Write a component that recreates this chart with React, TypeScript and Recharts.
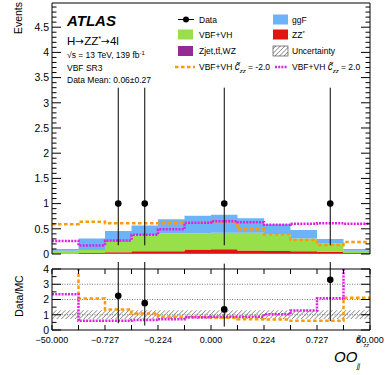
import React from 'react';
import { ComposedChart, Area, Line, Scatter, ErrorBar, XAxis, YAxis, ReferenceLine } from 'recharts';

// ---------- data ----------
const binEdges = [0, 1, 2, 3, 4, 5, 6, 7, 8, 9, 10, 11, 12];
const edgeLabels = ['−50.000', '', '−0.727', '', '−0.224', '', '0.000', '', '0.224', '', '0.727', '', '50.000'];

// stacked yields per bin (Events)
const zjetYield = [0.004, 0.004, 0.005, 0.006, 0.006, 0.006, 0.006, 0.006, 0.006, 0.005, 0.004, 0.004];
const zzYield = [0.008, 0.018, 0.032, 0.05, 0.048, 0.082, 0.086, 0.062, 0.056, 0.05, 0.04, 0.016];
const vbfYield = [0.053, 0.058, 0.2, 0.31, 0.355, 0.322, 0.328, 0.352, 0.328, 0.255, 0.166, 0.045];
const ggfYield = [0.035, 0.23, 0.22, 0.2, 0.28, 0.35, 0.36, 0.29, 0.2, 0.165, 0.09, 0.035];
const vbfMinus2 = [0.59, 0.64, 0.61, 0.61, 0.61, 0.63, 0.62, 0.49, 0.39, 0.28, 0.18, 0.24];
const vbfPlus2 = [0.26, 0.17, 0.27, 0.38, 0.49, 0.62, 0.65, 0.63, 0.58, 0.6, 0.61, 0.6];

// data points
const dataBinCenters = [2.5, 3.5, 6.5, 10.5];
const dataCounts = [1, 1, 1, 1];
const dataErrLow = [0.827, 0.827, 0.827, 0.827];
const dataErrHigh = [2.3, 2.3, 2.3, 2.3];

// ratio panel
const ratioValues = [2.24, 1.76, 1.35, 3.29];
const ratioErrLow = [1.8, 1.47, 1.13, 2.71];
const ratioErrHigh = [5.0, 4.0, 3.0, 7.6];
const ratioMinus2 = [5.9, 2.07, 1.35, 1.09, 0.87, 0.86, 0.8, 0.71, 0.69, 0.6, 0.6, 2.12];
const ratioPlus2 = [2.35, 0.6, 0.6, 0.65, 0.71, 0.83, 0.87, 0.87, 1.03, 1.28, 2.08, 5.5];
const uncLow = [0.72, 0.72, 0.72, 0.72, 0.72, 0.72, 0.72, 0.72, 0.72, 0.72, 0.72, 0.72];
const uncHigh = [1.3, 1.3, 1.3, 1.3, 1.3, 1.3, 1.3, 1.3, 1.3, 1.3, 1.3, 1.3];

const mainYLabels = ['0', '0.5', '1', '1.5', '2', '2.5', '3', '3.5', '4', '4.5'];
const ratioYLabels = ['0', '1', '2', '3', '4'];
const ratioGrid = [1, 2, 3];

const COLORS = {
  ggf: '#6cb4f7',
  vbf: '#97e04a',
  zz: '#e3140f',
  zjet: '#942a94',
  minus2: '#ff9a0a',
  plus2: '#e020e0',
};

// ---------- tables ----------
const mainRows = binEdges.map((x) => {
  const j = Math.min(x, 11);
  return {
    x,
    zjet: zjetYield[j],
    zz: zzYield[j],
    vbf: vbfYield[j],
    ggf: ggfYield[j],
    m2: vbfMinus2[j],
    p2: vbfPlus2[j],
  };
});
const ratioRows = binEdges.map((x) => {
  const j = Math.min(x, 11);
  return { x, m2: ratioMinus2[j], p2: ratioPlus2[j], band: [uncLow[j], uncHigh[j]] };
});
const dataPts = dataBinCenters.map((x, i) => ({ x, y: dataCounts[i], err: [dataErrLow[i], dataErrHigh[i]] }));
const ratioPts = dataBinCenters.map((x, i) => ({ x, y: ratioValues[i], err: [ratioErrLow[i], ratioErrHigh[i]] }));

const mainYTicks: number[] = [];
for (let k = 0; k <= 49; k++) mainYTicks.push(k / 10);
const ratioYTicks: number[] = [];
for (let k = 0; k <= 8; k++) ratioYTicks.push(k / 2);

const FONT = '"Liberation Sans", Arial, Helvetica, sans-serif';
const ARROW_FONT = '"DejaVu Sans", sans-serif';
const PL = 52;
const PR = 370;
// main panel (local coords = page coords)
const M_TOP = 3;
const M_BOT = 254;
// ratio panel local coords (chart placed at page y=262)
const R_OFF = 262;
const R_TOP = 7;
const R_BOT = 68;

const MainYTick = (props: any) => {
  const { y, payload } = props;
  const v = payload.value;
  const major = Math.abs(v * 2 - Math.round(v * 2)) < 1e-6;
  const len = major ? 9 : 4.5;
  const label = major ? mainYLabels[Math.round(v * 2)] : null;
  return (
    <g>
      <line x1={PL} x2={PL + len} y1={y} y2={y} stroke="#000" strokeWidth={1} />
      <line x1={PR - len} x2={PR} y1={y} y2={y} stroke="#000" strokeWidth={1} />
      {label != null && (
        <text x={PL - 3} y={y} dy="0.36em" textAnchor="end" fontSize={10.5} fontFamily={FONT} fill="#000">
          {label}
        </text>
      )}
    </g>
  );
};

const MainXTick = (props: any) => {
  const { x } = props;
  return (
    <g>
      <line x1={x} x2={x} y1={M_BOT} y2={M_BOT - 5} stroke="#000" />
      <line x1={x} x2={x} y1={M_TOP} y2={M_TOP + 5} stroke="#000" />
    </g>
  );
};

const RatioYTick = (props: any) => {
  const { y, payload } = props;
  const v = payload.value;
  const major = Math.abs(v - Math.round(v)) < 1e-6;
  const len = major ? 9 : 4.5;
  const label = major ? ratioYLabels[Math.round(v)] : null;
  return (
    <g>
      <line x1={PL} x2={PL + len} y1={y} y2={y} stroke="#000" />
      <line x1={PR - len} x2={PR} y1={y} y2={y} stroke="#000" />
      {label != null && (
        <text x={PL - 3} y={y} dy="0.36em" textAnchor="end" fontSize={10.5} fontFamily={FONT} fill="#000">
          {label}
        </text>
      )}
    </g>
  );
};

const RatioXTick = (props: any) => {
  const { x, payload } = props;
  const label = edgeLabels[payload.value];
  return (
    <g>
      <line x1={x} x2={x} y1={R_BOT} y2={R_BOT - 5} stroke="#000" />
      <line x1={x} x2={x} y1={R_TOP} y2={R_TOP + 5} stroke="#000" />
      {label ? (
        <text x={x} y={R_BOT + 12.5} textAnchor="middle" fontSize={9} fontFamily={FONT} fill="#000">
          {label}
        </text>
      ) : null}
    </g>
  );
};

const dot = (p: any) => <circle cx={p.cx} cy={p.cy} r={3.3} fill="#000" />;

type LegendItem = { label: string; kind: string; color: string; col: number; row: number; sign?: string };
const legendItems: LegendItem[] = [
  { label: 'Data', kind: 'data', color: '#000', col: 0, row: 0 },
  { label: 'ggF', kind: 'box', color: COLORS.ggf, col: 1, row: 0 },
  { label: 'VBF+VH', kind: 'box', color: COLORS.vbf, col: 0, row: 1 },
  { label: 'ZZ*', kind: 'box', color: COLORS.zz, col: 1, row: 1 },
  { label: 'Zjet,tt̄,WZ', kind: 'box', color: COLORS.zjet, col: 0, row: 2 },
  { label: 'Uncertainty', kind: 'hatch', color: '#333', col: 1, row: 2 },
  { label: 'VBF+VH', kind: 'dash', color: COLORS.minus2, col: 0, row: 3, sign: '-2.0' },
  { label: 'VBF+VH', kind: 'dot', color: COLORS.plus2, col: 1, row: 3, sign: '2.0' },
];
const legendRowY = [19.5, 34.5, 51, 67];
const legendColX = [178, 273];

const Legend = () => (
  <g fontFamily={FONT} fontSize={8.5}>
    {legendItems.map((it, i) => {
      const x0 = legendColX[it.col];
      const cy = legendRowY[it.row];
      let marker: any = null;
      if (it.kind === 'data') {
        marker = (
          <g>
            <line x1={x0} x2={x0 + 16} y1={cy} y2={cy} stroke="#000" />
            <circle cx={x0 + 8} cy={cy} r={3} fill="#000" />
          </g>
        );
      } else if (it.kind === 'box') {
        marker = <rect x={x0} y={cy - 5} width={15} height={10} fill={it.color} />;
      } else if (it.kind === 'hatch') {
        marker = <rect x={x0} y={cy - 5} width={15} height={10} fill="url(#hatchPat)" stroke="#333" strokeWidth={0.6} />;
      } else if (it.kind === 'dash') {
        marker = <line x1={x0 - 3} x2={x0 + 17} y1={cy} y2={cy} stroke={it.color} strokeWidth={2.5} strokeDasharray="3.5 2.5" />;
      } else {
        marker = <line x1={x0 + 2} x2={x0 + 14} y1={cy} y2={cy} stroke={it.color} strokeWidth={2.5} strokeDasharray="2 1.2" />;
      }
      const tx = x0 + (it.col === 0 ? 21 : 19);
      return (
        <g key={i}>
          {marker}
          {it.sign ? (
            <text x={tx} y={cy + 3} fill="#000">
              {it.label + ' '}
              <tspan fontStyle="italic" fontSize={10}>{'c\u0303'}</tspan>
              <tspan fontStyle="italic" fontSize={6} dy={2.5}>zz</tspan>
              <tspan dy={-2.5}>{' = ' + it.sign}</tspan>
            </text>
          ) : it.label === 'ZZ*' ? (
            <text x={tx} y={cy + 3} fill="#000">
              ZZ<tspan fontSize={6} dy={-3}>*</tspan>
            </text>
          ) : (
            <text x={tx} y={cy + 3} fill="#000">{it.label}</text>
          )}
        </g>
      );
    })}
  </g>
);

export default function App() {
  return (
    <div style={{ position: 'absolute', left: 0, top: 0, width: 390, height: 375, background: '#fff' }}>
      <svg width={0} height={0} style={{ position: 'absolute' }}>
        <defs>
          <pattern id="hatchPat" width={3.2} height={3.2} patternUnits="userSpaceOnUse" patternTransform="rotate(45)">
            <line x1={0} y1={0} x2={0} y2={3.2} stroke="#333" strokeWidth={0.9} />
          </pattern>
        </defs>
      </svg>

      <div style={{ position: 'absolute', left: 0, top: 0 }}>
        <ComposedChart width={390} height={262} data={mainRows} margin={{ top: 3, right: 20, bottom: 8, left: 0 }}>
          <XAxis
            type="number"
            dataKey="x"
            domain={[0, 12]}
            ticks={binEdges}
            interval={0}
            height={0}
            tickLine={false}
            axisLine={{ stroke: '#000' }}
            tick={<MainXTick />}
          />
          <YAxis
            type="number"
            domain={[0, 4.98]}
            ticks={mainYTicks}
            interval={0}
            width={52}
            tickLine={false}
            axisLine={{ stroke: '#000' }}
            tick={<MainYTick />}
            allowDataOverflow
          />
          <Area type="stepAfter" dataKey="zjet" stackId="s" fill={COLORS.zjet} fillOpacity={1} stroke="none" isAnimationActive={false} />
          <Area type="stepAfter" dataKey="zz" stackId="s" fill={COLORS.zz} fillOpacity={1} stroke="none" isAnimationActive={false} />
          <Area type="stepAfter" dataKey="vbf" stackId="s" fill={COLORS.vbf} fillOpacity={1} stroke="none" isAnimationActive={false} />
          <Area type="stepAfter" dataKey="ggf" stackId="s" fill={COLORS.ggf} fillOpacity={1} stroke="none" isAnimationActive={false} />
          <Line type="stepAfter" dataKey="m2" stroke={COLORS.minus2} strokeWidth={2.5} strokeDasharray="3.5 2.5" dot={false} isAnimationActive={false} />
          <Line type="stepAfter" dataKey="p2" stroke={COLORS.plus2} strokeWidth={2.5} strokeDasharray="2 1.2" dot={false} isAnimationActive={false} />
          <Scatter data={dataPts} dataKey="y" shape={dot} isAnimationActive={false}>
            <ErrorBar dataKey="err" direction="y" width={0} stroke="#000" strokeWidth={1} />
          </Scatter>
          <ReferenceLine y={4.98} stroke="#000" />
          <ReferenceLine x={12} stroke="#000" />
        </ComposedChart>
      </div>

      <div style={{ position: 'absolute', left: 0, top: R_OFF }}>
        <ComposedChart width={390} height={113} data={ratioRows} margin={{ top: R_TOP, right: 20, bottom: 29, left: 0 }}>
          <XAxis
            type="number"
            dataKey="x"
            domain={[0, 12]}
            ticks={binEdges}
            interval={0}
            height={16}
            tickLine={false}
            axisLine={{ stroke: '#000' }}
            tick={<RatioXTick />}
          />
          <YAxis
            type="number"
            domain={[0, 4]}
            ticks={ratioYTicks}
            interval={0}
            width={52}
            tickLine={false}
            axisLine={{ stroke: '#000' }}
            tick={<RatioYTick />}
            allowDataOverflow
          />
          {ratioGrid.map((g) => (
            <ReferenceLine key={g} y={g} stroke="#555" strokeDasharray="1 1.5" strokeWidth={0.8} />
          ))}
          <Area type="stepAfter" dataKey="band" fill="url(#hatchPat)" fillOpacity={1} stroke="none" isAnimationActive={false} />
          <Line type="stepAfter" dataKey="m2" stroke={COLORS.minus2} strokeWidth={2.5} strokeDasharray="3.5 2.5" dot={false} isAnimationActive={false} />
          <Line type="stepAfter" dataKey="p2" stroke={COLORS.plus2} strokeWidth={2.5} strokeDasharray="2 1.2" dot={false} isAnimationActive={false} />
          <Scatter data={ratioPts} dataKey="y" shape={dot} isAnimationActive={false}>
            <ErrorBar dataKey="err" direction="y" width={0} stroke="#000" strokeWidth={1} />
          </Scatter>
          <ReferenceLine y={4} stroke="#000" />
          <ReferenceLine x={12} stroke="#000" />
        </ComposedChart>
      </div>

      <svg width={390} height={375} style={{ position: 'absolute', left: 0, top: 0, pointerEvents: 'none' }}>
        <g fontFamily={FONT} fill="#000">
          <text transform="translate(21.5,2) rotate(-90)" textAnchor="end" fontSize={10.5}>Events</text>
          <text transform="translate(22.5,296) rotate(-90)" textAnchor="middle" fontSize={10.5}>Data/MC</text>
          <text x={67} y={26} fontSize={15} fontWeight="bold" fontStyle="italic">ATLAS</text>
          <text x={67} y={44.5} fontSize={11.5}>
            H<tspan fontFamily={ARROW_FONT} fontSize={10.5}>→</tspan>ZZ<tspan fontSize={7.5} dy={-4}>*</tspan>
            <tspan dy={4} fontFamily={ARROW_FONT} fontSize={10.5}>→</tspan>4l
          </text>
          <text x={67} y={58} fontSize={8.5}>
            √s = 13 TeV, 139 fb<tspan fontSize={6} dy={-3.5}>-1</tspan>
          </text>
          <text x={67} y={70.5} fontSize={8.5}>VBF SR3</text>
          <text x={67} y={82.5} fontSize={8.5}>Data Mean: 0.06±0.27</text>
          <Legend />
          <text x={334} y={362} fontSize={15} fontStyle="italic">OO</text>
          <text x={356} y={343} fontSize={9} fontStyle="italic">{'c\u0303'}</text>
          <text x={363.5} y={347} fontSize={5.5} fontStyle="italic">zz</text>
          <text x={357} y={368} fontSize={7} fontStyle="italic">jj</text>
        </g>
      </svg>
    </div>
  );
}
